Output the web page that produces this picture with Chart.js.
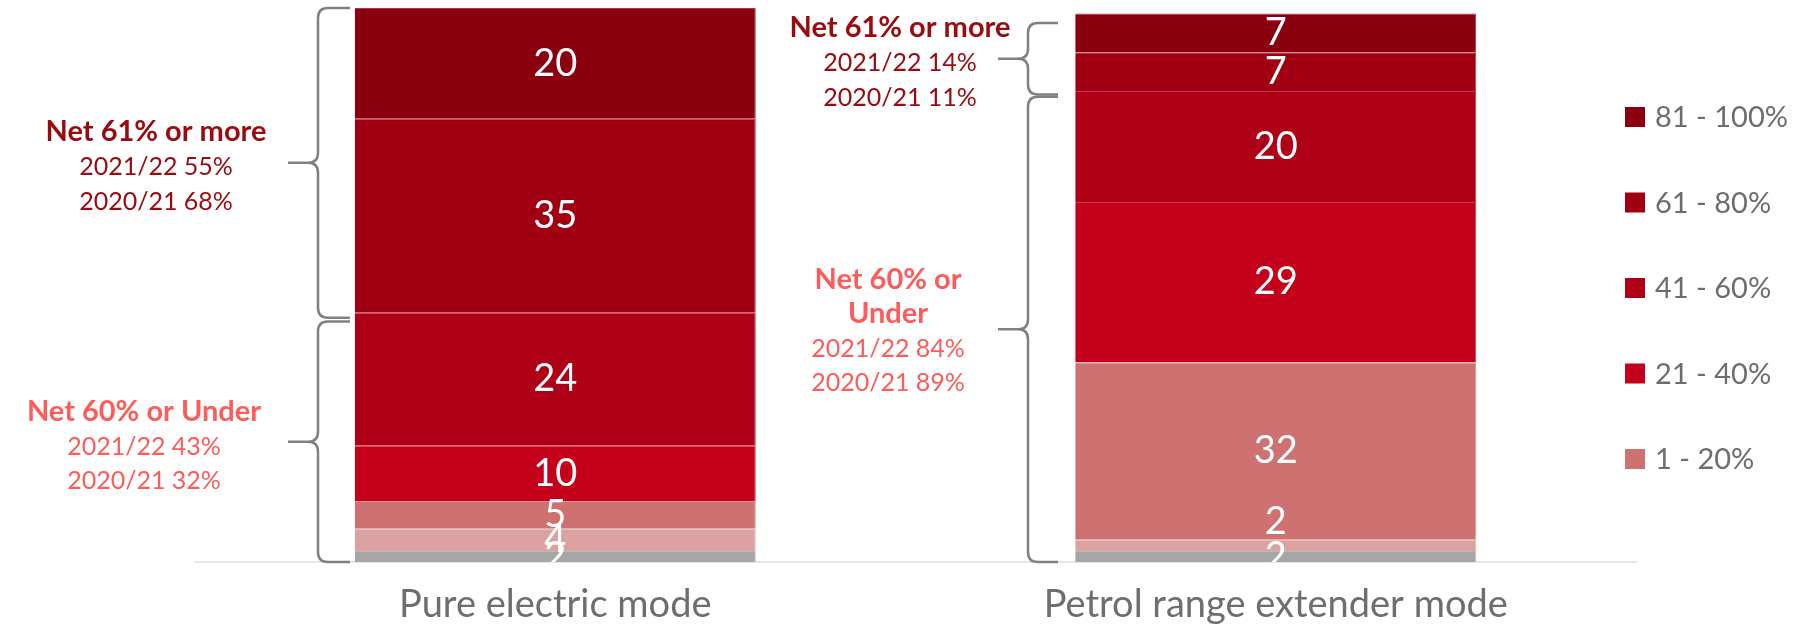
<!DOCTYPE html>
<html>
<head>
<meta charset="utf-8">
<script src="https://cdn.jsdelivr.net/npm/chart.js@4/dist/chart.umd.min.js"></script>
<style>
    html, body { margin: 0; padding: 0; background: #fff; }
    #wrap { width: 1805px; height: 624px; position: relative; }
</style>
</head>
<body>
<div id="wrap"><canvas id="myChart"></canvas></div>
<script>
const categories = ["Pure electric mode", "Petrol range extender mode"];

// bands, bottom of the stack first
const bandGrey = [2, 2];
const bandLight = [4, 2];
const band1to20 = [5, 32];
const band21to40 = [10, 29];
const band41to60 = [24, 20];
const band61to80 = [35, 7];
const band81to100 = [20, 7];

const legendLabels = ["", "", "1 - 20%", "21 - 40%", "41 - 60%", "61 - 80%", "81 - 100%"];

// net figures shown beside each bar
const netHighTitle = "Net 61% or more";
const netHigh2122 = [55, 14];
const netHigh2021 = [68, 11];
const netLowTitle = "Net 60% or Under";
const netLow2122 = [43, 84];
const netLow2021 = [32, 89];

// value ranges covered by the braces (per bar: upper group, lower group)
const braceHigh = [[100, 44.1], [97.3, 84.4]];
const braceLow = [[43.4, 0], [84.0, 0]];

const FONT = 'Lato, "Open Sans", sans-serif';
const DARK_RED = "#9a0a10";
const LIGHT_RED = "#ff5b5b";

const colors = ["#a6a6a6", "#dca2a2", "#cd7171", "#c4001a", "#b00018", "#a00012", "#8b000f"];

const seriesData = [bandGrey, bandLight, band1to20, band21to40, band41to60, band61to80, band81to100];

// slightly paler edge, like the thin separators in the original
function paler(hex, amount) {
    const n = parseInt(hex.slice(1), 16);
    const mix = (c) => Math.round(c + (255 - c) * amount);
    return `rgb(${mix(n >> 16)}, ${mix((n >> 8) & 255)}, ${mix(n & 255)})`;
}

// white value labels inside the segments, clipped to the plot area
const valueLabels = {
    id: "valueLabels",
    afterDatasetsDraw(chart) {
        const { ctx, chartArea } = chart;
        ctx.save();
        ctx.beginPath();
        ctx.rect(chartArea.left, chartArea.top, chartArea.right - chartArea.left, chartArea.bottom - chartArea.top);
        ctx.clip();
        ctx.fillStyle = "#ffffff";
        ctx.font = "38px " + FONT;
        ctx.textAlign = "center";
        ctx.textBaseline = "middle";
        chart.data.datasets.forEach((ds, di) => {
            const meta = chart.getDatasetMeta(di);
            meta.data.forEach((bar, i) => {
                const h = Math.abs(bar.base - bar.y);
                let y = (bar.y + bar.base) / 2;
                // very thin segments above the bottom one get their label lifted
                if (h < 15 && di > 0) y -= 24;
                ctx.fillText(String(ds.data[i]), bar.x, y);
            });
        });
        ctx.restore();
    }
};

function drawBrace(ctx, xEnd, xSpine, xTip, y1, y2) {
    const r = 10;
    const ym = (y1 + y2) / 2;
    ctx.beginPath();
    ctx.moveTo(xEnd, y1);
    ctx.lineTo(xSpine + r, y1);
    ctx.quadraticCurveTo(xSpine, y1, xSpine, y1 + r);
    ctx.lineTo(xSpine, ym - r);
    ctx.quadraticCurveTo(xSpine, ym, xSpine - r, ym);
    ctx.lineTo(xTip, ym);
    ctx.moveTo(xSpine - r, ym);
    ctx.quadraticCurveTo(xSpine, ym, xSpine, ym + r);
    ctx.lineTo(xSpine, y2 - r);
    ctx.quadraticCurveTo(xSpine, y2, xSpine + r, y2);
    ctx.lineTo(xEnd, y2);
    ctx.stroke();
}

function drawLines(ctx, x, lines) {
    lines.forEach(([text, y, bold, color]) => {
        ctx.font = (bold ? "bold 29px " : "25px ") + FONT;
        ctx.fillStyle = color;
        ctx.fillText(text, x, y);
    });
}

// braces, net annotations and the legend on the right
const annotations = {
    id: "annotations",
    afterDraw(chart) {
        const { ctx } = chart;
        const yScale = chart.scales.y;
        ctx.save();

        ctx.strokeStyle = "#808080";
        ctx.lineWidth = 2.5;
        const braceX = [[350, 318, 288], [1058, 1028, 998]];
        [braceHigh, braceLow].forEach((group) => {
            group.forEach(([top, bottom], i) => {
                const [xe, xs, xt] = braceX[i];
                drawBrace(ctx, xe, xs, xt, yScale.getPixelForValue(top), yScale.getPixelForValue(bottom));
            });
        });

        ctx.textAlign = "center";
        ctx.textBaseline = "middle";
        drawLines(ctx, 156, [
            [netHighTitle, 132, true, DARK_RED],
            [`2021/22 ${netHigh2122[0]}%`, 167, false, DARK_RED],
            [`2020/21 ${netHigh2021[0]}%`, 202, false, DARK_RED],
        ]);
        drawLines(ctx, 144, [
            [netLowTitle, 412, true, LIGHT_RED],
            [`2021/22 ${netLow2122[0]}%`, 447, false, LIGHT_RED],
            [`2020/21 ${netLow2021[0]}%`, 481, false, LIGHT_RED],
        ]);
        drawLines(ctx, 900, [
            [netHighTitle, 28, true, DARK_RED],
            [`2021/22 ${netHigh2122[1]}%`, 63, false, DARK_RED],
            [`2020/21 ${netHigh2021[1]}%`, 98, false, DARK_RED],
        ]);
        const lowWords = netLowTitle.split(" ");
        drawLines(ctx, 888, [
            [lowWords.slice(0, 3).join(" "), 280, true, LIGHT_RED],
            [lowWords.slice(3).join(" "), 314, true, LIGHT_RED],
            [`2021/22 ${netLow2122[1]}%`, 349, false, LIGHT_RED],
            [`2020/21 ${netLow2021[1]}%`, 383, false, LIGHT_RED],
        ]);

        // legend, top band first
        ctx.textAlign = "left";
        ctx.font = "29px " + FONT;
        let row = 0;
        for (let di = chart.data.datasets.length - 1; di >= 0; di--) {
            const ds = chart.data.datasets[di];
            if (!ds.label) continue;
            const cy = 117 + row * 85.5;
            ctx.fillStyle = ds.backgroundColor;
            ctx.fillRect(1625, cy - 10, 20, 20);
            ctx.fillStyle = "#6d6d6d";
            ctx.fillText(ds.label, 1655, cy + 1);
            row++;
        }
        ctx.restore();
    }
};

const ctx = document.getElementById("myChart").getContext("2d");
new Chart(ctx, {
    type: "bar",
    data: {
        labels: categories,
        datasets: seriesData.map((data, i) => ({
            label: legendLabels[i],
            data: data,
            backgroundColor: colors[i],
            borderColor: paler(colors[i], 0.22),
            borderWidth: { top: 1, right: 1, left: 0, bottom: 0 },
            borderSkipped: false,
            categoryPercentage: 1,
            barPercentage: 0.5566,
        })),
    },
    options: {
        responsive: true,
        maintainAspectRatio: false,
        animation: false,
        layout: {
            padding: { left: 195, right: 169, top: 8, bottom: 0 },
        },
        plugins: {
            legend: { display: false },
            tooltip: { enabled: false },
        },
        scales: {
            x: {
                stacked: true,
                grid: { display: false, drawTicks: false },
                border: { display: true, color: "#e6e6e6", width: 2 },
                ticks: {
                    color: "#6e6e6e",
                    padding: 20,
                    font: { family: FONT, size: 38 },
                },
                afterFit(scale) {
                    scale.height = 62;
                },
            },
            y: {
                stacked: true,
                display: false,
                min: 0,
                max: 100,
            },
        },
    },
    plugins: [valueLabels, annotations],
});
</script>
</body>
</html>
